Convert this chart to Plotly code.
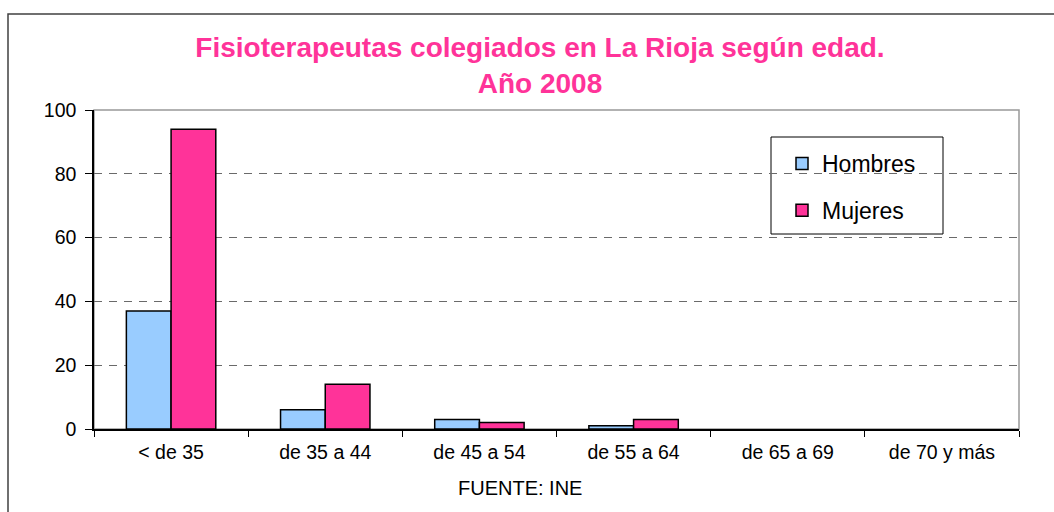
import plotly.graph_objects as go

categories = ["< de 35", "de 35 a 44", "de 45 a 54", "de 55 a 64", "de 65 a 69", "de 70 y más"]
hombres = [37, 6, 3, 1, 0, 0]
mujeres = [94, 14, 2, 3, 0, 0]
y_ticks = [0, 20, 40, 60, 80, 100]

title_text = "Fisioterapeutas colegiados en La Rioja según edad.<br>Año 2008"
source_text = "FUENTE: INE"

W, H = 1054, 512
L, R, T, B = 94, 1019, 110, 429  # plot area in pixels

def px(x):
    return (x - L) / (R - L)

def py(y):
    return (B - y) / (B - T)

FONT = "Liberation Sans, Arial, sans-serif"
PINK = "#FF3399"
BLUE = "#99CCFF"

def outline_widths(vals):
    return [1.5 if v > 0 else 0 for v in vals]

fig = go.Figure()
fig.add_trace(go.Bar(name="Hombres", x=categories, y=hombres,
                     marker=dict(color=BLUE, line=dict(color="black", width=outline_widths(hombres))),
                     legendgroup="h"))
fig.add_trace(go.Bar(name="Mujeres", x=categories, y=mujeres,
                     marker=dict(color=PINK, line=dict(color="black", width=outline_widths(mujeres))),
                     legendgroup="m"))

fig.update_layout(
    width=W, height=H,
    margin=dict(l=L, r=W - R, t=T, b=H - B),
    paper_bgcolor="white", plot_bgcolor="white",
    barmode="group", bargap=0.42, bargroupgap=0,
    font=dict(family=FONT, size=20, color="black"),
    title=dict(text=title_text, x=540 / W, xref="container", xanchor="center",
               y=1 - 57 / H, yref="container", yanchor="top",
               font=dict(family=FONT, size=28, color=PINK, weight="bold")),
    showlegend=True,
    legend=dict(x=px(782), y=py(142), xanchor="left", yanchor="top",
                bgcolor="rgba(0,0,0,0)", borderwidth=0,
                font=dict(family=FONT, size=23, color="black"),
                traceorder="grouped", tracegroupgap=14, itemclick=False),
)

fig.update_xaxes(type="category", tickson="boundaries", ticks="outside", ticklen=6, tickcolor="black",
                 showline=True, linecolor="black", linewidth=1.5, showgrid=False, ticklabelstandoff=5,
                 tickfont=dict(family=FONT, size=19.5, color="black"))
fig.update_yaxes(range=[0, 100], tickvals=y_ticks, ticks="outside", ticklen=7, tickcolor="black",
                 showline=True, linecolor="black", linewidth=1.5, zeroline=False, ticklabelstandoff=5,
                 showgrid=True, gridcolor="#6a6a6a", gridwidth=1, griddash="8px,7px",
                 tickfont=dict(family=FONT, size=19.5, color="black"))

# plot area border (top/right, gray)
fig.add_shape(type="rect", xref="paper", yref="paper", x0=0, y0=0, x1=1, y1=1,
              line=dict(color="#999999", width=1.5), layer="below")
# outer chart border
fig.add_shape(type="rect", xref="paper", yref="paper", x0=px(8), y0=py(14), x1=px(W + 10), y1=py(H + 10),
              line=dict(color="#404040", width=1.5), layer="below")
# legend box
fig.add_shape(type="rect", xref="paper", yref="paper", x0=px(771), y0=py(137), x1=px(943), y1=py(234),
              line=dict(color="black", width=1), fillcolor="white", layer="below")

fig.add_annotation(text=source_text, xref="paper", yref="paper", x=px(520), y=py(488),
                   xanchor="center", yanchor="middle", showarrow=False,
                   font=dict(family=FONT, size=20, color="black"))

fig.write_html("out.html", config={"displayModeBar": False},
               post_script="document.body.style.margin='0px';document.body.style.padding='0px';")
